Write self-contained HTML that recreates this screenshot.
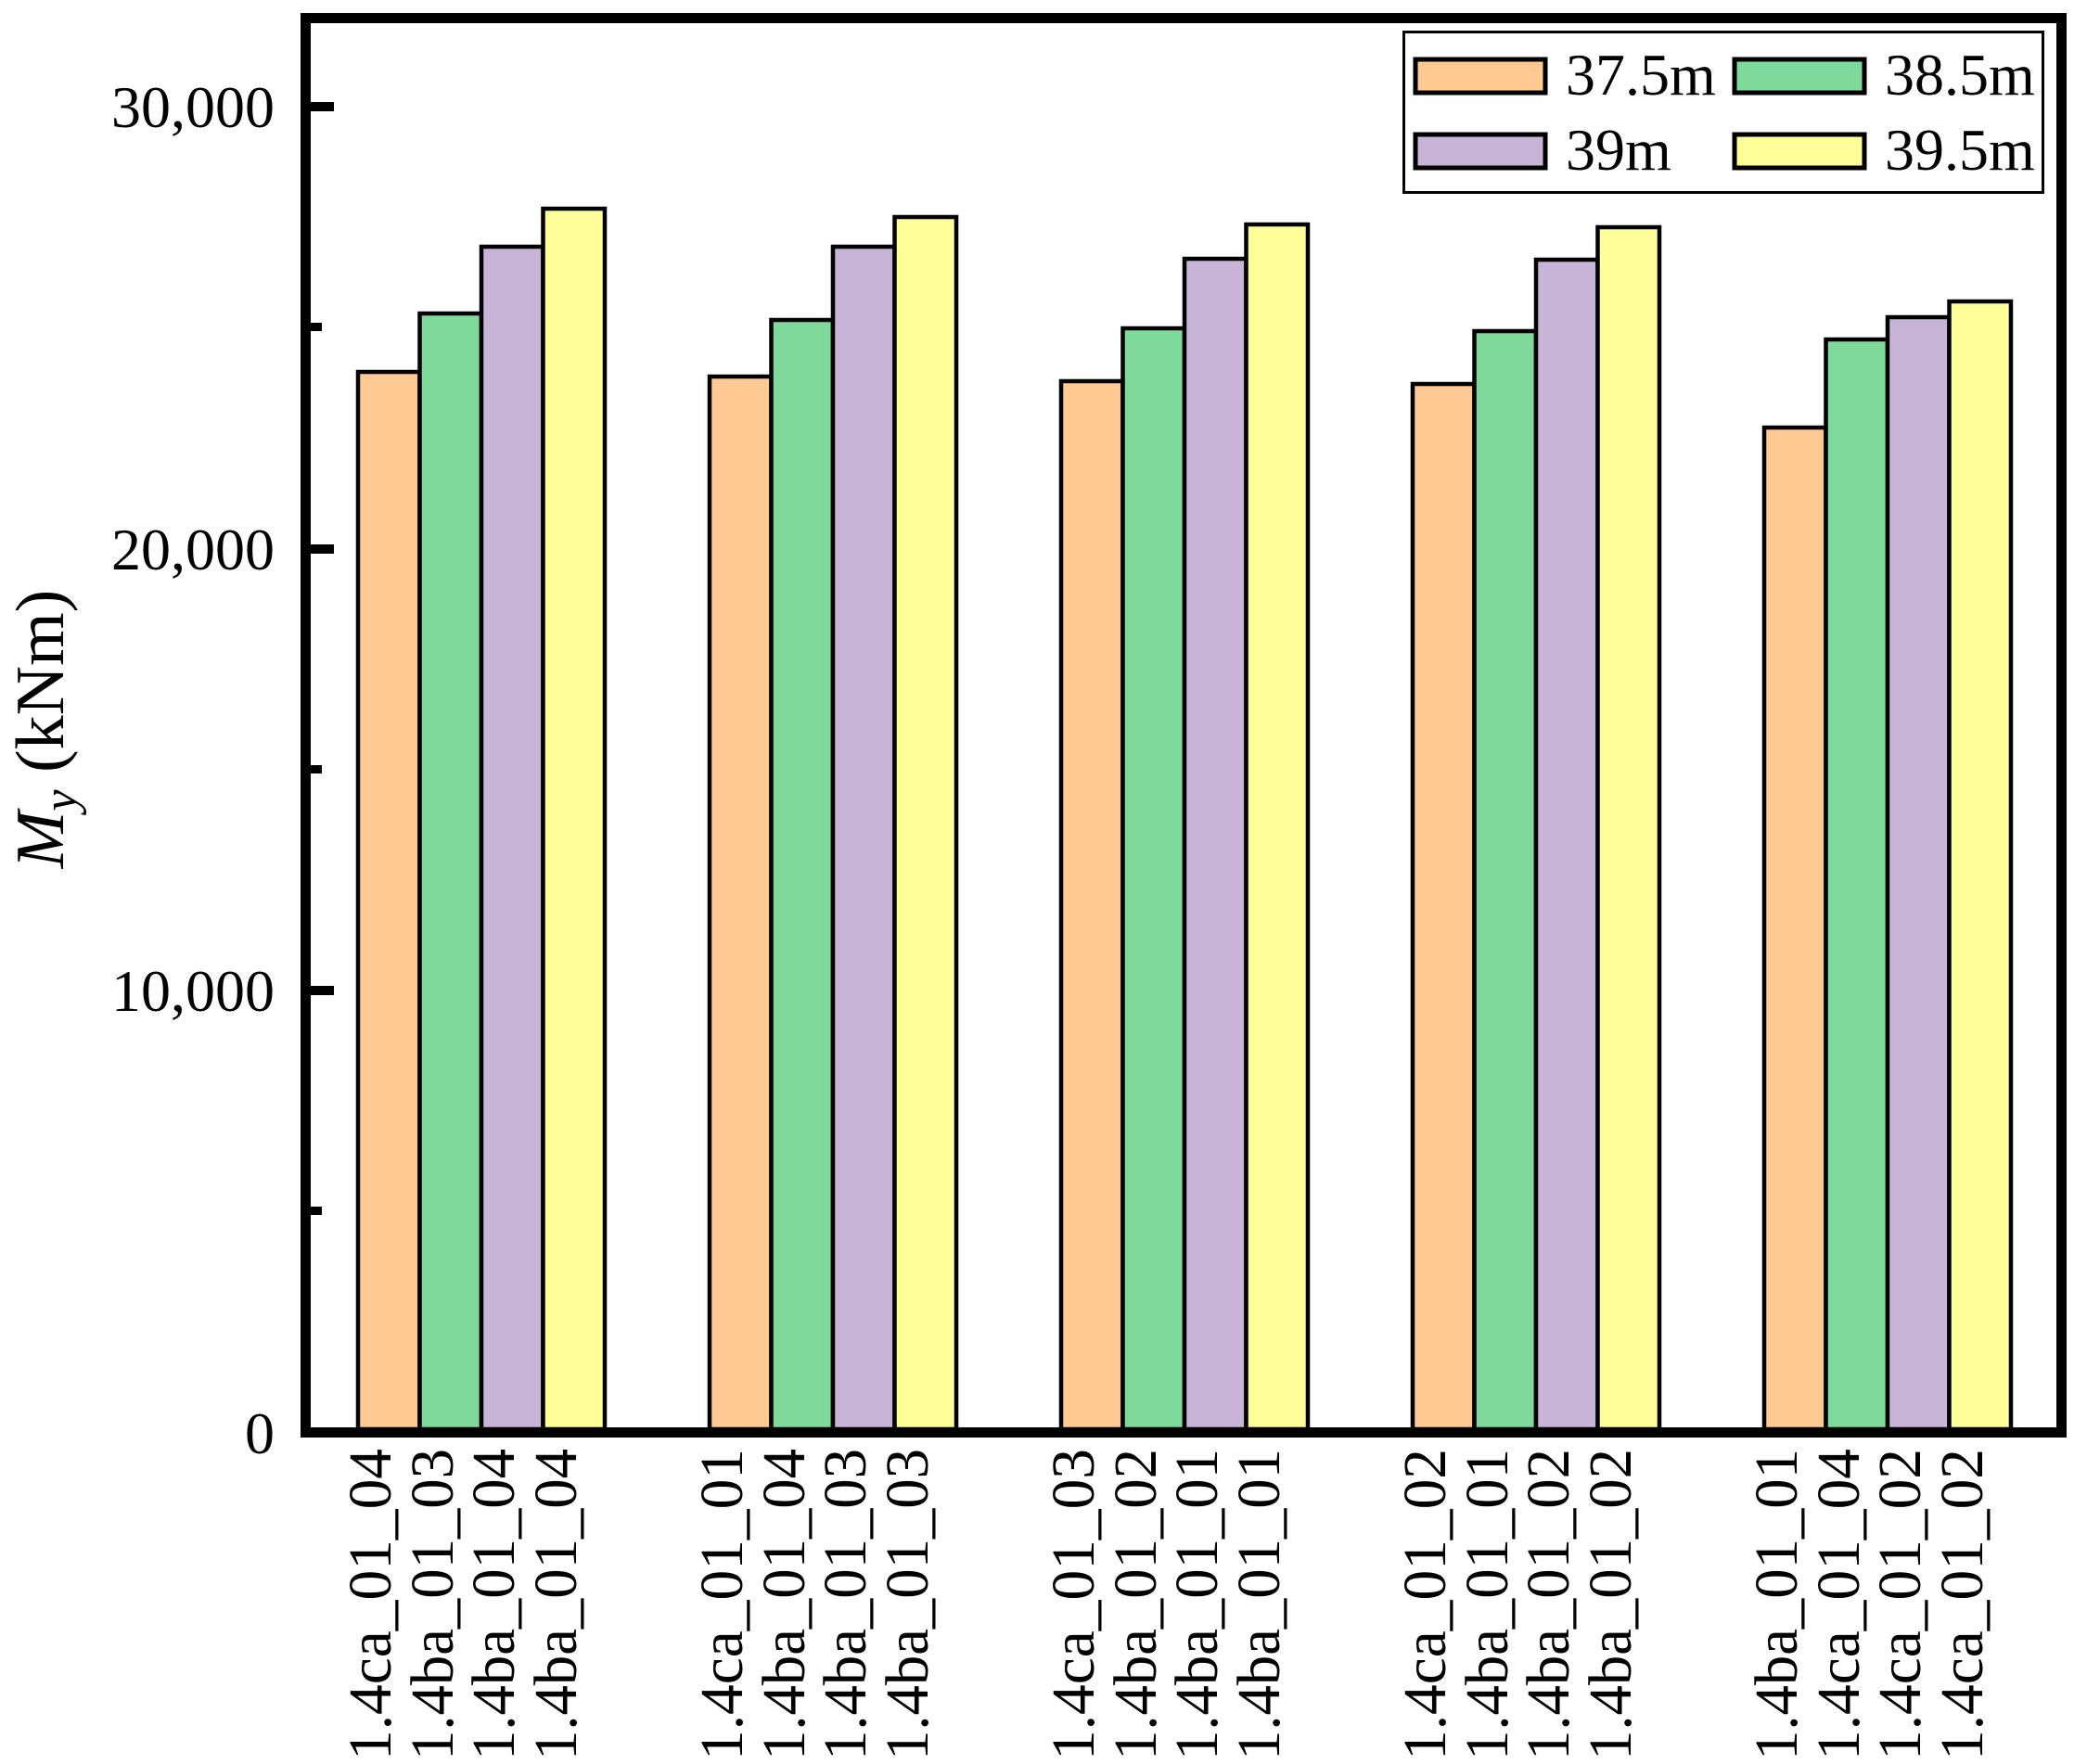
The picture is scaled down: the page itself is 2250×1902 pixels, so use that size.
<!DOCTYPE html>
<html><head><meta charset="utf-8"><style>
html,body{margin:0;padding:0;background:#fff;}
svg{display:block;}
text{font-family:"Liberation Serif",serif;fill:#000;}
</style></head><body>
<svg width="2250" height="1902" viewBox="0 0 2250 1902" xmlns="http://www.w3.org/2000/svg">
<rect width="2250" height="1902" fill="#fff"/>
<g stroke="#000" stroke-width="4.5">
<rect x="386" y="401" width="66.5" height="1140" fill="#FFC994"/>
<rect x="452.5" y="338" width="66.5" height="1203" fill="#7FD99A"/>
<rect x="519" y="266" width="66.5" height="1275" fill="#C8B4D7"/>
<rect x="585.5" y="225" width="66.5" height="1316" fill="#FFFF99"/>
<rect x="765" y="406" width="66.5" height="1135" fill="#FFC994"/>
<rect x="831.5" y="345" width="66.5" height="1196" fill="#7FD99A"/>
<rect x="898" y="266" width="66.5" height="1275" fill="#C8B4D7"/>
<rect x="964.5" y="234" width="66.5" height="1307" fill="#FFFF99"/>
<rect x="1144" y="411" width="66.5" height="1130" fill="#FFC994"/>
<rect x="1210.5" y="354" width="66.5" height="1187" fill="#7FD99A"/>
<rect x="1277" y="279" width="66.5" height="1262" fill="#C8B4D7"/>
<rect x="1343.5" y="242" width="66.5" height="1299" fill="#FFFF99"/>
<rect x="1523" y="414" width="66.5" height="1127" fill="#FFC994"/>
<rect x="1589.5" y="357" width="66.5" height="1184" fill="#7FD99A"/>
<rect x="1656" y="280" width="66.5" height="1261" fill="#C8B4D7"/>
<rect x="1722.5" y="245" width="66.5" height="1296" fill="#FFFF99"/>
<rect x="1902" y="461" width="66.5" height="1080" fill="#FFC994"/>
<rect x="1968.5" y="366" width="66.5" height="1175" fill="#7FD99A"/>
<rect x="2035" y="342" width="66.5" height="1199" fill="#C8B4D7"/>
<rect x="2101.5" y="325" width="66.5" height="1216" fill="#FFFF99"/>
</g>
<rect x="329.5" y="19.5" width="1893" height="1525" fill="none" stroke="#000" stroke-width="11"/>
<g fill="#000">
<rect x="335" y="110" width="25" height="10"/>
<rect x="335" y="587" width="25" height="10"/>
<rect x="335" y="1063" width="25" height="10"/>
<rect x="335" y="348" width="12" height="9"/>
<rect x="335" y="825" width="12" height="9"/>
<rect x="335" y="1301" width="12" height="9"/>
</g>
<g font-size="64" text-anchor="end">
<text x="296" y="137">30,000</text>
<text x="296" y="614">20,000</text>
<text x="296" y="1090">10,000</text>
<text x="296" y="1567">0</text>
</g>
<text transform="translate(68,786) rotate(-90)" text-anchor="middle" font-size="74"><tspan font-style="italic">M</tspan><tspan font-style="italic" font-size="52" dy="14">y</tspan><tspan dy="-14"> (kNm)</tspan></text>
<rect x="1513.5" y="34.5" width="689" height="173" fill="#fff" stroke="#000" stroke-width="3"/>
<g stroke="#000" stroke-width="5">
<rect x="1526" y="64" width="140" height="36" fill="#FFC994"/>
<rect x="1870" y="64" width="140" height="36" fill="#7FD99A"/>
<rect x="1526" y="145" width="140" height="36" fill="#C8B4D7"/>
<rect x="1870" y="145" width="140" height="36" fill="#FFFF99"/>
</g>
<g font-size="64">
<text x="1688" y="102">37.5m</text>
<text x="2032" y="102">38.5m</text>
<text x="1688" y="183">39m</text>
<text x="2032" y="183">39.5m</text>
</g>
<g font-size="66" text-anchor="end">
<text textLength="336" lengthAdjust="spacingAndGlyphs" transform="translate(421,1562) rotate(-90)">1.4ca_01_04</text>
<text textLength="336" lengthAdjust="spacingAndGlyphs" transform="translate(488,1562) rotate(-90)">1.4ba_01_03</text>
<text textLength="336" lengthAdjust="spacingAndGlyphs" transform="translate(554,1562) rotate(-90)">1.4ba_01_04</text>
<text textLength="336" lengthAdjust="spacingAndGlyphs" transform="translate(621,1562) rotate(-90)">1.4ba_01_04</text>
<text textLength="336" lengthAdjust="spacingAndGlyphs" transform="translate(800,1562) rotate(-90)">1.4ca_01_01</text>
<text textLength="336" lengthAdjust="spacingAndGlyphs" transform="translate(867,1562) rotate(-90)">1.4ba_01_04</text>
<text textLength="336" lengthAdjust="spacingAndGlyphs" transform="translate(933,1562) rotate(-90)">1.4ba_01_03</text>
<text textLength="336" lengthAdjust="spacingAndGlyphs" transform="translate(1000,1562) rotate(-90)">1.4ba_01_03</text>
<text textLength="336" lengthAdjust="spacingAndGlyphs" transform="translate(1179,1562) rotate(-90)">1.4ca_01_03</text>
<text textLength="336" lengthAdjust="spacingAndGlyphs" transform="translate(1246,1562) rotate(-90)">1.4ba_01_02</text>
<text textLength="336" lengthAdjust="spacingAndGlyphs" transform="translate(1312,1562) rotate(-90)">1.4ba_01_01</text>
<text textLength="336" lengthAdjust="spacingAndGlyphs" transform="translate(1379,1562) rotate(-90)">1.4ba_01_01</text>
<text textLength="336" lengthAdjust="spacingAndGlyphs" transform="translate(1558,1562) rotate(-90)">1.4ca_01_02</text>
<text textLength="336" lengthAdjust="spacingAndGlyphs" transform="translate(1625,1562) rotate(-90)">1.4ba_01_01</text>
<text textLength="336" lengthAdjust="spacingAndGlyphs" transform="translate(1691,1562) rotate(-90)">1.4ba_01_02</text>
<text textLength="336" lengthAdjust="spacingAndGlyphs" transform="translate(1758,1562) rotate(-90)">1.4ba_01_02</text>
<text textLength="336" lengthAdjust="spacingAndGlyphs" transform="translate(1937,1562) rotate(-90)">1.4ba_01_01</text>
<text textLength="336" lengthAdjust="spacingAndGlyphs" transform="translate(2004,1562) rotate(-90)">1.4ca_01_04</text>
<text textLength="336" lengthAdjust="spacingAndGlyphs" transform="translate(2070,1562) rotate(-90)">1.4ca_01_02</text>
<text textLength="336" lengthAdjust="spacingAndGlyphs" transform="translate(2137,1562) rotate(-90)">1.4ca_01_02</text>
</g>
</svg>
</body></html>
